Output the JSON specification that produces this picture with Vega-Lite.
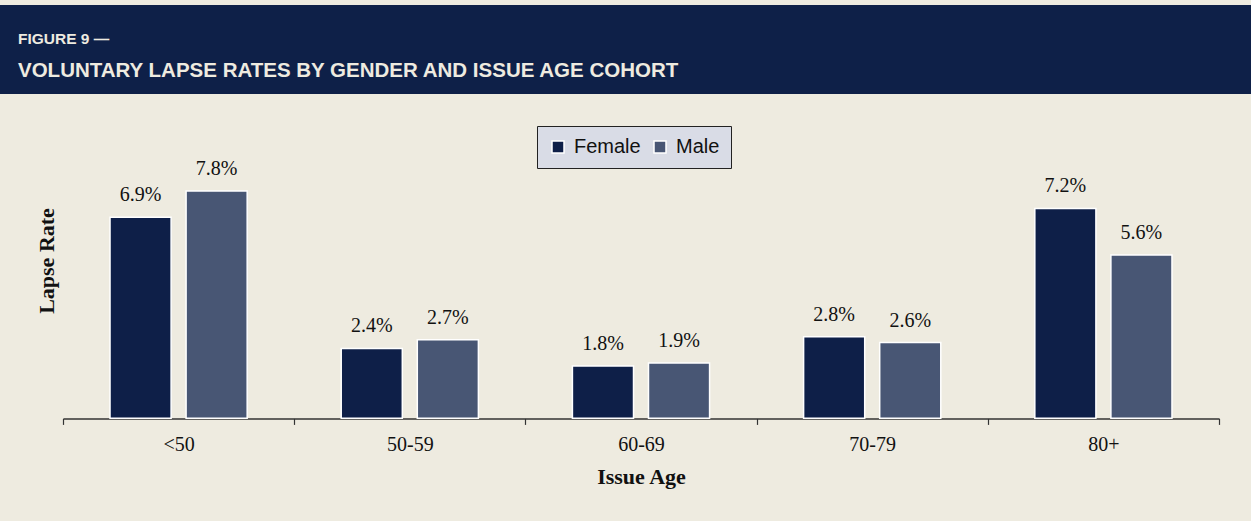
{
  "$schema": "https://vega.github.io/schema/vega-lite/v6.json",
  "width": 1251,
  "height": 521,
  "autosize": {"type": "none"},
  "padding": 0,
  "background": "#EEEBE0",
  "config": {
    "view": {"stroke": null},
    "font": "Liberation Serif",
    "axisY": {
      "orient": "left", "offset": -63, "domain": false, "ticks": false, "labels": false, "grid": false,
      "titleFont": "Liberation Serif", "titleFontWeight": "bold", "titleFontSize": 22, "titleColor": "#111111", "titlePadding": 5
    }
  },
  "layer": [
    {
      "data": {"values": [{"part": "header"}]},
      "mark": {"type": "rect", "color": "#0E2048"},
      "encoding": {
        "y": {"datum": 0.1418, "type": "quantitative", "scale": {"domain": [-0.0352, 0.1435], "zero": false, "nice": false}, "title": "Lapse Rate"},
        "y2": {"datum": 0.1113}
      }
    },
    {
      "data": {"values": [{"label": "FIGURE 9 —"}]},
      "mark": {"type": "text", "align": "left", "baseline": "alphabetic", "dx": 18, "font": "Liberation Sans", "fontWeight": "bold", "fontSize": 15.5, "color": "#EEEBE0"},
      "encoding": {
        "x": {"datum": 0, "type": "quantitative", "scale": {"domain": [0, 1]}, "axis": null},
        "y": {"datum": 0.12841, "type": "quantitative", "scale": {"domain": [-0.0352, 0.1435], "zero": false, "nice": false}, "title": "Lapse Rate"},
        "text": {"field": "label"}
      }
    },
    {
      "data": {"values": [{"label": "VOLUNTARY LAPSE RATES BY GENDER AND ISSUE AGE COHORT"}]},
      "mark": {"type": "text", "align": "left", "baseline": "alphabetic", "dx": 18, "font": "Liberation Sans", "fontWeight": "bold", "fontSize": 20.5, "color": "#EEEBE0"},
      "encoding": {
        "x": {"datum": 0, "type": "quantitative", "scale": {"domain": [0, 1]}, "axis": null},
        "y": {"datum": 0.11709, "type": "quantitative", "scale": {"domain": [-0.0352, 0.1435], "zero": false, "nice": false}, "title": "Lapse Rate"},
        "text": {"field": "label"}
      }
    },
    {
      "data": {
        "values": [
          {"age": "<50", "gender": "Female", "rate": 0.069},
          {"age": "<50", "gender": "Male", "rate": 0.078},
          {"age": "50-59", "gender": "Female", "rate": 0.024},
          {"age": "50-59", "gender": "Male", "rate": 0.027},
          {"age": "60-69", "gender": "Female", "rate": 0.018},
          {"age": "60-69", "gender": "Male", "rate": 0.019},
          {"age": "70-79", "gender": "Female", "rate": 0.028},
          {"age": "70-79", "gender": "Male", "rate": 0.026},
          {"age": "80+", "gender": "Female", "rate": 0.072},
          {"age": "80+", "gender": "Male", "rate": 0.056}
        ]
      },
      "encoding": {
        "x": {
          "field": "age", "type": "nominal",
          "sort": ["<50", "50-59", "60-69", "70-79", "80+"],
          "scale": {"range": [63, 1219], "paddingInner": 0, "paddingOuter": 0},
          "title": "Issue Age",
          "axis": {
            "orient": "bottom", "offset": -102.6, "labelAngle": 0, "tickBand": "extent",
            "domainColor": "#333333", "domainWidth": 1.5, "tickColor": "#333333", "tickSize": 6, "tickWidth": 1.2,
            "labelFont": "Liberation Serif", "labelFontSize": 20, "labelColor": "#111111", "labelPadding": 10,
            "titleFont": "Liberation Serif", "titleFontWeight": "bold", "titleFontSize": 22, "titleColor": "#111111", "titlePadding": 12,
            "grid": false
          }
        },
        "xOffset": {"field": "gender", "type": "nominal", "sort": ["Female", "Male"], "scale": {"paddingInner": 0.197, "paddingOuter": 0.618}},
        "y": {
          "field": "rate", "type": "quantitative",
          "scale": {"domain": [-0.0352, 0.1435], "zero": false, "nice": false},
          "title": "Lapse Rate"
        }
      },
      "layer": [
        {
          "mark": {"type": "bar", "stroke": "#FFFFFF", "strokeWidth": 1.5},
          "encoding": {
            "y2": {"datum": 0},
            "color": {
              "field": "gender", "type": "nominal", "sort": ["Female", "Male"],
              "scale": {"domain": ["Female", "Male"], "range": ["#0E1F48", "#485674"]},
              "legend": {
                "orient": "none", "legendX": 537, "legendY": 126, "direction": "horizontal", "title": null,
                "fillColor": "#D9DCE6", "strokeColor": "#222222", "padding": 11, "columnPadding": 9,
                "symbolType": "square", "symbolSize": 144, "symbolStrokeColor": "#FFFFFF", "symbolStrokeWidth": 1.5, "symbolOpacity": 1,
                "labelFont": "Liberation Sans", "labelFontSize": 20, "labelColor": "#111111", "labelOffset": 6
              }
            }
          }
        },
        {
          "mark": {"type": "text", "dy": -16, "baseline": "alphabetic", "fontSize": 20, "font": "Liberation Serif", "color": "#111111"},
          "encoding": {"text": {"field": "rate", "type": "quantitative", "format": ".1%"}}
        }
      ]
    }
  ],
  "resolve": {"scale": {"x": "independent"}}
}
